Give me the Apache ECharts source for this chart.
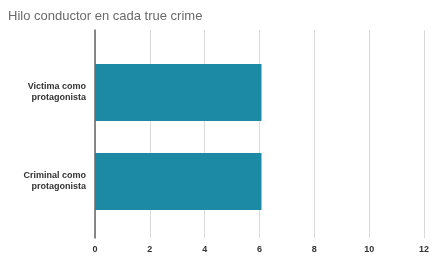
<!DOCTYPE html>
<html>
<head>
<meta charset="utf-8">
<script src="https://cdn.jsdelivr.net/npm/echarts@6/dist/echarts.min.js"></script>
<style>
  html, body { margin: 0; padding: 0; background: #fff; }
  #chart { width: 432px; height: 256px; }
</style>
</head>
<body>
<div id="chart"></div>
<script>
// datos
const categories = ['Victima como\nprotagonista', 'Criminal como\nprotagonista']
const values = [6, 6]
const xTicks = [0, 2, 4, 6, 8, 10, 12]

const chart = echarts.init(document.getElementById('chart'))

const option = {
  animation: false,
  title: {
    text: 'Hilo conductor en cada true crime',
    left: 3,
    top: 5,
    textStyle: {
      fontFamily: 'Liberation Sans',
      fontSize: 13,
      fontWeight: 'normal',
      color: '#6a6a6a'
    }
  },
  grid: [
    // lineas de fondo (mas altas que las barras)
    { left: 95, right: 4, top: 30, bottom: 18 },
    // barras
    { left: 95, right: 4, top: 48, bottom: 30 }
  ],
  xAxis: [
    {
      gridIndex: 0,
      type: 'value',
      min: xTicks[0],
      max: xTicks[xTicks.length - 1],
      interval: 2,
      axisLine: { show: false },
      axisTick: { show: false },
      splitLine: { lineStyle: { color: '#dcd9d7', width: 1 } },
      axisLabel: {
        margin: 7,
        fontFamily: 'Liberation Sans',
        fontSize: 9,
        fontWeight: 'bold',
        color: '#333'
      }
    },
    {
      gridIndex: 1,
      type: 'value',
      min: xTicks[0],
      max: xTicks[xTicks.length - 1],
      interval: 2,
      show: false
    }
  ],
  yAxis: [
    {
      gridIndex: 0,
      type: 'value',
      min: 0,
      max: 1,
      axisLine: { show: true, lineStyle: { color: '#666', width: 1.5 } },
      axisTick: { show: false },
      axisLabel: { show: false },
      splitLine: { show: false }
    },
    {
      gridIndex: 1,
      type: 'category',
      inverse: true,
      data: categories,
      axisLine: { show: false },
      axisTick: { show: false },
      axisLabel: {
        margin: 9,
        fontFamily: 'Liberation Sans',
        fontSize: 9,
        fontWeight: 'bold',
        color: '#333',
        lineHeight: 11,
        align: 'right'
      }
    }
  ],
  series: [
    {
      type: 'bar',
      xAxisIndex: 1,
      yAxisIndex: 1,
      data: values,
      barWidth: '64%',
      itemStyle: { color: '#1d8aa5' }
    }
  ]
}

chart.setOption(option)
</script>
</body>
</html>
